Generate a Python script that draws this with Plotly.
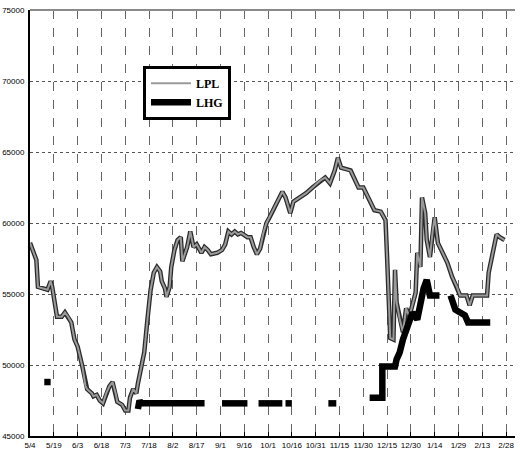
import pandas as pd
import plotly.graph_objects as go

start = pd.Timestamp("2003-05-04")

# LPL: days since 5/4 and values
lpl_day = [0, 3, 4, 5, 8, 11, 13, 14, 17, 20, 22, 24, 26, 28, 30, 33, 35, 36, 39, 40,
           42, 44, 46, 48, 50, 52, 54, 55, 58, 60, 62, 63, 65, 67, 68, 70, 72, 74, 76, 78,
           80, 82, 83, 85, 86, 88, 89, 91, 93, 95, 96, 99, 101, 103, 105, 108, 110, 112, 114, 118,
           121, 123, 125, 127, 129, 131, 133, 137, 139, 141, 143, 145, 147, 149, 151, 154, 159, 161, 164, 166,
           170, 174, 178, 183, 186, 189, 192, 194, 196, 202, 207, 210, 214, 217, 221, 224, 225, 226, 227, 229,
           230, 231, 233, 235, 237, 239, 243, 244, 246, 247, 249, 250, 252, 254, 255, 257, 259, 263, 266, 269,
           271, 275, 277, 279, 284, 288, 289, 291, 293, 294, 296, 299]
lpl_val = [58600, 57600, 57400, 55500, 55400, 55300, 55900, 55500, 53400, 53400, 53700, 53400, 53000, 51800, 51300, 49900, 48500, 48300, 48000, 47800,
           47900, 47500, 47300, 48000, 48500, 48800, 48000, 47400, 47200, 46800, 46800, 47700, 48300, 48000, 48700, 49900, 50900, 53200, 55300, 56500,
           56900, 56600, 55900, 55400, 54800, 55500, 56900, 58100, 58800, 59000, 57300, 58300, 59400, 58300, 58500, 57900, 58300, 58100, 57800, 57900,
           58100, 58500, 59400, 59200, 59400, 59200, 59300, 59000, 59000, 58300, 57800, 58200, 59300, 60000, 60400, 61100, 62200, 61800, 60700, 61500,
           61800, 62100, 62500, 63000, 63200, 62800, 63700, 64600, 63900, 63700, 62500, 62500, 61600, 60900, 60800, 60200, 57600, 54400, 51900, 51800,
           56700, 54400, 53200, 52300, 54000, 53400, 55100, 57900, 56900, 61800, 60700, 58800, 57600, 59700, 60400, 58600, 58100, 57200, 56200, 55500,
           54900, 54900, 54200, 54900, 54900, 54900, 56500, 57600, 58600, 59200, 59000, 58800]

# LHG: None marks a gap
lhg_day = [9, 13, 13,
           68, 69, 70, 110, 110,
           121, 137, 137,
           144, 159, 159, 161, 165, 165,
           188, 193, 193,
           214, 222, 222, 230, 231, 233, 235, 237, 239, 241, 244, 246, 248, 250, 251, 252, 258, 258,
           265, 268, 271, 274, 276, 290]
lhg_val = [48800, 48800, None,
           46900, 47500, 47300, 47300, None,
           47300, 47300, None,
           47300, 47300, None, 47300, 47300, None,
           47300, 47300, None,
           47700, 47700, 49900, 49900, 50400, 50900, 51800, 52500, 53300, 53700, 53200, 54600, 55400, 56000, 55300, 54900, 54900, None,
           54900, 53900, 53700, 53500, 53000, 53000]

tick_labels = ["5/4", "5/19", "6/3", "6/18", "7/3", "7/18", "8/2", "8/17", "9/1", "9/16", "10/1",
               "10/16", "10/31", "11/15", "11/30", "12/15", "12/30", "1/14", "1/29", "2/13", "2/28"]
y_ticks = [45000, 50000, 55000, 60000, 65000, 70000, 75000]

lpl_x = start + pd.to_timedelta(lpl_day, unit="D")
lhg_x = start + pd.to_timedelta(lhg_day, unit="D")
tick_x = start + pd.to_timedelta([15 * i for i in range(len(tick_labels))], unit="D")

fig = go.Figure()
fig.add_trace(go.Scatter(x=lpl_x, y=lpl_val, mode="lines", line=dict(color="#2a2a2a", width=4.5),
                         showlegend=False, hoverinfo="skip"))
fig.add_trace(go.Scatter(x=lpl_x, y=lpl_val, mode="lines", name="LPL", line=dict(color="#9a9a9a", width=2)))
fig.add_trace(go.Scatter(x=lhg_x, y=lhg_val, mode="lines", name="LHG", line=dict(color="#000000", width=6.5),
                         connectgaps=False))

tick_font = dict(family="Liberation Sans Narrow, Arial Narrow, sans-serif", size=8, color="#000000")

fig.update_layout(
    width=520, height=471,
    margin=dict(l=30, r=5, t=10, b=35),
    plot_bgcolor="white", paper_bgcolor="white",
    legend=dict(x=0.233, y=0.869, xanchor="left", yanchor="top",
                bgcolor="white", bordercolor="#000000", borderwidth=3,
                font=dict(family="Liberation Serif, serif", size=12, color="#000000", weight="bold"),
                itemwidth=40, tracegroupgap=0),
    shapes=[dict(type="line", xref="paper", yref="paper", x0=0, x1=1, y0=1, y1=1,
                 line=dict(color="#8a8a8a", width=2))],
)
fig.update_xaxes(
    range=[start, start + pd.Timedelta(days=305.6)], automargin=False,
    tickvals=tick_x, ticktext=tick_labels, tickfont=tick_font,
    showgrid=True, gridcolor="#666666", griddash="dash", gridwidth=1,
    showline=True, linecolor="#000000", linewidth=2,
    ticks="inside", ticklen=4, tickcolor="#000000",
    zeroline=False,
)
fig.update_yaxes(
    range=[45000, 75000], tickvals=y_ticks, tickformat="d", tickfont=tick_font,
    automargin=False, ticklabelstandoff=2,
    showgrid=True, gridcolor="#555555", griddash="dot", gridwidth=1,
    showline=True, linecolor="#000000", linewidth=2,
    zeroline=False,
)

# the page's default body margin would push the figure 8px right and down
fig.write_html("out.html", config={"displayModeBar": False},
               post_script="document.body.style.margin='0';")
